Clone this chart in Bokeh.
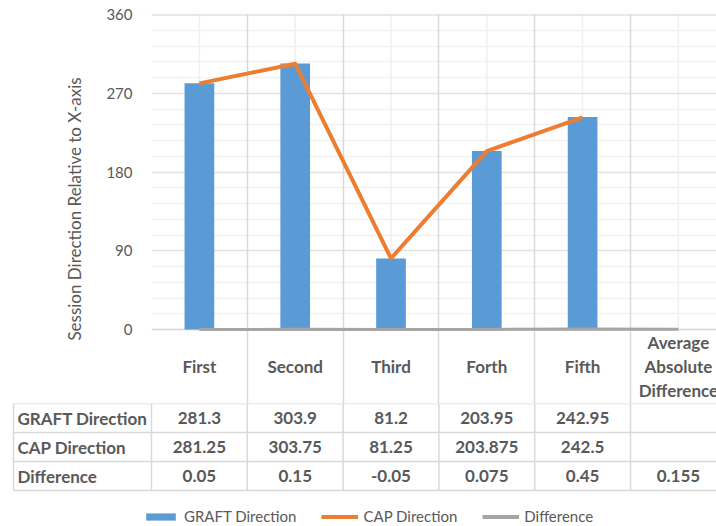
from bokeh.plotting import figure
from bokeh.models import (Range1d, FixedTicker, Grid, ColumnDataSource, Legend, LegendItem)
from bokeh.core.properties import value
from bokeh.embed import file_html
from bokeh.resources import INLINE

# ---------------- data ----------------
categories = ["First", "Second", "Third", "Forth", "Fifth", "Average\nAbsolute\nDifference"]
graft = [281.3, 303.9, 81.2, 203.95, 242.95]
cap = [281.25, 303.75, 81.25, 203.875, 242.5]
difference = [0.05, 0.15, -0.05, 0.075, 0.45, 0.155]
row_labels = ["GRAFT Direction", "CAP Direction", "Difference"]
y_ticks = [0, 90, 180, 270, 360]
y_minor = [18, 36, 54, 72, 108, 126, 144, 162, 198, 216, 234, 252, 288, 306, 324, 342]

# ---------------- styling / geometry ----------------
FONT = "Lato"
TXT = "#595959"
BLUE = "#5b9bd5"
ORANGE = "#ed7d31"
GRAY = "#a5a5a5"
BORDER = "#d9d9d9"
W = 716
CW = 95.8                 # px per category
PXU = 315.0 / 360.0       # px per y unit
PLOT_LEFT = 151           # frame left offset within figure
TOP_PAD = 14
FRAME_W = W - PLOT_LEFT
HEADER_H = 74             # header row height px
ROW_H = 29
BOT_H = 123

n = len(categories)
centers = [i + 0.5 for i in range(n)]

# ---------------- top figure (chart + header row) ----------------
y_bottom = -HEADER_H / PXU
top = figure(width=W, height=TOP_PAD + 315 + HEADER_H, output_backend="svg", toolbar_location=None,
             x_range=Range1d(0, FRAME_W / CW), y_range=Range1d(y_bottom, 360),
             x_axis_location=None, min_border_left=PLOT_LEFT, min_border_right=0,
             min_border_top=TOP_PAD, min_border_bottom=0)
top.outline_line_color = None
top.background_fill_color = "white"

# y axis
ax = top.yaxis[0]
ax.ticker = FixedTicker(ticks=y_ticks, minor_ticks=y_minor)
ax.axis_line_color = None
ax.major_tick_line_color = None
ax.minor_tick_line_color = None
ax.major_label_text_font = FONT
ax.major_label_text_font_size = "15px"
ax.major_label_text_color = TXT
ax.major_label_standoff = 13
ax.axis_label = "Session Direction Relative to X-axis"
ax.axis_label_text_font = FONT
ax.axis_label_text_font_size = "17px"
ax.axis_label_text_font_style = "normal"
ax.axis_label_text_color = TXT
ax.axis_label_standoff = 18

top.ygrid.grid_line_color = "#e3e3e3"
top.ygrid.grid_line_width = 1.5
top.ygrid.minor_grid_line_color = "#f2f2f2"
top.ygrid.minor_grid_line_width = 1.5
top.xgrid.grid_line_color = None

# vertical boundaries (extend through header row)
vgrid = Grid(dimension=0, ticker=FixedTicker(ticks=list(range(n + 1))),
             grid_line_color=BORDER, grid_line_width=1.5)
top.add_layout(vgrid)

# vertical lines at category centres inside plot area
top.segment(x0=centers, y0=[0] * n, x1=centers, y1=[360] * n,
            line_color="#efefef", line_width=1.5, level="underlay")

# top border line and header top border
top.segment(x0=[0], y0=[360], x1=[n + 1], y1=[360], line_color="#d0d0d0", line_width=2)
top.segment(x0=[0], y0=[0], x1=[n + 1], y1=[0], line_color=BORDER, line_width=1.5)

src_bar = ColumnDataSource(dict(x=centers[:len(graft)], top=graft))
top.vbar(x="x", top="top", width=0.31, source=src_bar, fill_color=BLUE, line_color=None)
top.line(centers[:len(cap)], cap, line_color=ORANGE, line_width=4, line_join="round")
top.line(centers[:len(difference)], difference, line_color=GRAY, line_width=3)

# header texts
top.text(x=centers, y=[-HEADER_H / 2 / PXU] * n, text=categories,
         text_font=value(FONT), text_font_style="bold", text_font_size="17px",
         text_color=TXT, text_align="center", text_baseline="middle",
         text_line_height=1.12)

# ---------------- bottom figure (table rows + legend) ----------------
left_u = -PLOT_LEFT / CW
bot = figure(width=W, height=BOT_H, output_backend="svg", toolbar_location=None,
             x_range=Range1d(left_u, FRAME_W / CW), y_range=Range1d(BOT_H, 0),
             x_axis_type=None, y_axis_type=None,
             min_border_left=0, min_border_right=0, min_border_top=0, min_border_bottom=0)
bot.outline_line_color = None
bot.xgrid.grid_line_color = None
bot.ygrid.grid_line_color = None

table_left = left_u + 13 / CW
nrows = len(row_labels)
# horizontal borders
hy = [i * ROW_H for i in range(nrows + 1)]
bot.segment(x0=[table_left] * len(hy), y0=hy, x1=[n + 1] * len(hy), y1=hy,
            line_color=BORDER, line_width=1.5)
# vertical borders
vx = [table_left] + list(range(n + 1))
bot.segment(x0=vx, y0=[0] * len(vx), x1=vx, y1=[nrows * ROW_H] * len(vx),
            line_color=BORDER, line_width=1.5)

# row labels
row_y = [(i + 0.5) * ROW_H for i in range(nrows)]
bot.text(x=[table_left + 4 / CW] * nrows, y=row_y, text=row_labels,
         text_font=value(FONT), text_font_style="bold", text_font_size="17px",
         text_color=TXT, text_align="left", text_baseline="middle")

# cell values
cell_x, cell_y, cell_t = [], [], []
for r, series in enumerate([graft, cap, difference]):
    for i, v in enumerate(series):
        cell_x.append(centers[i])
        cell_y.append(row_y[r])
        cell_t.append(str(v))
bot.text(x=cell_x, y=cell_y, text=cell_t,
         text_font=value(FONT), text_font_style="bold", text_font_size="17px",
         text_color=TXT, text_align="center", text_baseline="middle")

# legend with proxy renderers (same styles as the chart series)
nan = float("nan")
p1 = bot.vbar(x=[nan], top=[nan], width=0.3, fill_color=BLUE, line_color=None)
p2 = bot.line(x=[nan, nan], y=[nan, nan], line_color=ORANGE, line_width=4)
p3 = bot.line(x=[nan, nan], y=[nan, nan], line_color=GRAY, line_width=4)
legend = Legend(items=[LegendItem(label="GRAFT Direction", renderers=[p1]),
                       LegendItem(label="CAP Direction", renderers=[p2]),
                       LegendItem(label="Difference", renderers=[p3])],
                orientation="horizontal", location=(142, 1),
                border_line_color=None, background_fill_alpha=0,
                label_text_font=FONT, label_text_font_size="15px",
                label_text_color=TXT, glyph_width=37, glyph_height=9,
                label_standoff=5, spacing=25, padding=0, margin=0)
bot.add_layout(legend)

open("out.html", "w").write(file_html([top, bot], INLINE))
